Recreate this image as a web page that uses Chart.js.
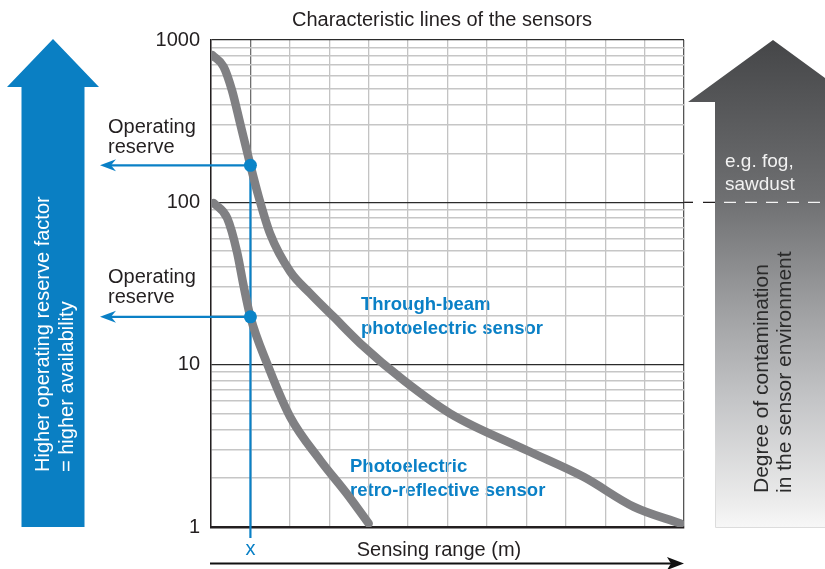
<!DOCTYPE html>
<html>
<head>
<meta charset="utf-8">
<title>Characteristic lines of the sensors</title>
<script src="https://cdn.jsdelivr.net/npm/chart.js@4/dist/chart.umd.min.js"></script>
<style>
  html, body { margin: 0; padding: 0; background: #fff; }
  #wrap { position: relative; width: 825px; height: 569px; }
</style>
</head>
<body>
<div id="wrap"><canvas id="sensorChart"></canvas></div>
<script>
// Data (x = grid steps along the sensing range, y = operating reserve)
const throughBeamX = [0.03, 0.32, 0.53, 0.74, 1, 1.21, 1.5, 2.01, 2.52, 3.11, 3.79, 4.89, 6.07, 8.02, 9.46, 10.73, 11.91];
const throughBeamY = [808, 685, 492, 306, 169, 108, 64, 37.4, 27.4, 19.7, 13.5, 8.0, 5.0, 2.96, 2.03, 1.33, 1.05];
const retroX = [0.07, 0.41, 0.66, 0.83, 1, 1.42, 2.01, 2.77, 3.45, 4.0];
const retroY = [99, 80, 49.5, 30.4, 19.7, 10.2, 4.76, 2.58, 1.6, 1.05];
const reserveX = [1, 1];
const reserveY = [169, 19.7];
const yTickLabels = [1, 10, 100, 1000];
const xSteps = 12;

const ink = '#231f20';
const blue = '#0a80c6';
const curveGray = '#808083';
const font = (size, weight) => (weight || '') + ' ' + size + 'px "Liberation Sans", Arial, sans-serif';

// grid values for the log axis: 1..9, 10..90, 100..1000
const yGrid = [];
for (let d = 1; d < 1000; d *= 10) {
    for (let m = 1; m < 10; m++) yGrid.push(m * d);
}
yGrid.push(1000);

const toPoints = (xs, ys) => xs.map((x, i) => ({ x: x, y: ys[i] }));

// Arrows, captions and guide lines around the plot
const decor = {
    id: 'decor',
    beforeDraw(chart) {
        const c = chart.ctx;
        c.save();

        // left blue arrow
        c.fillStyle = '#0a7fc3';
        c.beginPath();
        c.moveTo(53, 39); c.lineTo(99, 87); c.lineTo(84.5, 87); c.lineTo(84.5, 527);
        c.lineTo(21.5, 527); c.lineTo(21.5, 87); c.lineTo(7, 87);
        c.closePath(); c.fill();

        c.fillStyle = '#ffffff';
        c.font = font(20);
        c.textAlign = 'left';
        c.textBaseline = 'middle';
        [['Higher operating reserve factor', 43], ['= higher availability', 67]].forEach(([t, x]) => {
            c.save(); c.translate(x, 472); c.rotate(-Math.PI / 2); c.fillText(t, 0, 0); c.restore();
        });

        // right gray arrow
        const g = c.createLinearGradient(0, 40, 0, 527);
        g.addColorStop(0, '#454648');
        g.addColorStop(0.33, '#6f7072');
        g.addColorStop(0.54, '#9c9d9f');
        g.addColorStop(0.74, '#c4c5c7');
        g.addColorStop(0.95, '#ececec');
        g.addColorStop(1, '#f7f7f7');
        c.fillStyle = g;
        c.beginPath();
        c.moveTo(773, 40); c.lineTo(858, 102); c.lineTo(831, 102); c.lineTo(831, 527);
        c.lineTo(715, 527); c.lineTo(715, 102); c.lineTo(688, 102);
        c.closePath(); c.fill();
        c.strokeStyle = '#dcdcdc';
        c.lineWidth = 1;
        c.beginPath(); c.moveTo(715.5, 450); c.lineTo(715.5, 527.5); c.lineTo(825, 527.5); c.stroke();

        c.fillStyle = '#f2f2f2';
        c.font = font(19);
        c.fillText('e.g. fog,', 725, 162);
        c.fillText('sawdust', 725, 185);

        c.fillStyle = '#2b2b2b';
        c.font = font(21);
        [['Degree of contamination', 762], ['in the sensor environment', 785]].forEach(([t, x]) => {
            c.save(); c.translate(x, 493); c.rotate(-Math.PI / 2); c.fillText(t, 0, 0); c.restore();
        });

        // dashed threshold at 100
        const y100 = chart.scales.y.getPixelForValue(100);
        const right = chart.chartArea.right;
        c.strokeStyle = ink; c.lineWidth = 1.3;
        c.beginPath(); c.moveTo(right, y100); c.lineTo(693, y100); c.stroke();
        c.setLineDash([12, 9]);
        c.save();
        c.beginPath(); c.rect(690, 190, 25, 25); c.clip();
        c.beginPath(); c.moveTo(703, y100); c.lineTo(825, y100); c.stroke();
        c.restore();
        c.save();
        c.beginPath(); c.rect(715, 190, 110, 25); c.clip();
        c.strokeStyle = '#f4f4f4';
        c.beginPath(); c.moveTo(703, y100); c.lineTo(825, y100); c.stroke();
        c.restore();
        c.setLineDash([]);

        // title and axis caption
        c.fillStyle = ink;
        c.textAlign = 'center';
        c.font = font(20);
        c.fillText('Characteristic lines of the sensors', 442, 20);
        c.fillText('Sensing range (m)', 439, 550);

        // operating reserve captions
        c.textAlign = 'left';
        c.fillText('Operating', 108, 127);
        c.fillText('reserve', 108, 147);
        c.fillText('Operating', 108, 277);
        c.fillText('reserve', 108, 297);

        // series captions
        c.fillStyle = blue;
        c.font = font(18.5, 'bold');
        c.fillText('Through-beam', 361, 305);
        c.fillText('photoelectric sensor', 361, 329);
        c.fillText('Photoelectric', 350, 467);
        c.fillText('retro-reflective sensor', 350, 491);

        // bottom range arrow
        c.strokeStyle = '#111'; c.fillStyle = '#111'; c.lineWidth = 2;
        c.beginPath(); c.moveTo(210, 563.5); c.lineTo(672, 563.5); c.stroke();
        c.beginPath(); c.moveTo(684, 563.5); c.lineTo(667, 557); c.lineTo(671, 563.5); c.lineTo(667, 570); c.closePath(); c.fill();
        c.restore();
    },
    beforeDatasetsDraw(chart) {
        const c = chart.ctx;
        const xs = chart.scales.x, ys = chart.scales.y;
        c.save();
        c.strokeStyle = blue; c.fillStyle = blue; c.lineWidth = 2.2;
        const px = xs.getPixelForValue(reserveX[0]);
        c.beginPath(); c.moveTo(px, ys.getPixelForValue(reserveY[0])); c.lineTo(px, 538); c.stroke();
        reserveY.forEach((v, i) => {
            const x = xs.getPixelForValue(reserveX[i]);
            const y = ys.getPixelForValue(v);
            c.beginPath(); c.moveTo(x, y); c.lineTo(108, y); c.stroke();
            c.beginPath(); c.moveTo(100, y); c.lineTo(116, y - 6); c.lineTo(111, y); c.lineTo(116, y + 6); c.closePath(); c.fill();
        });
        c.font = font(20);
        c.textAlign = 'center';
        c.textBaseline = 'middle';
        c.fillText('x', px, 549);
        c.restore();
    }
};

const chart = new Chart(document.getElementById('sensorChart'), {
    type: 'line',
    data: {
        datasets: [{
            label: 'Operating reserve',
            data: toPoints(reserveX, reserveY),
            showLine: false,
            pointRadius: 6.5,
            pointBackgroundColor: '#0a84c8',
            pointBorderWidth: 0,
            order: 0
        }, {
            label: 'Through-beam photoelectric sensor',
            data: toPoints(throughBeamX, throughBeamY),
            borderColor: curveGray,
            borderWidth: 8.5,
            borderCapStyle: 'round',
            borderJoinStyle: 'round',
            cubicInterpolationMode: 'monotone',
            pointRadius: 0,
            order: 1
        }, {
            label: 'Photoelectric retro-reflective sensor',
            data: toPoints(retroX, retroY),
            borderColor: curveGray,
            borderWidth: 8.5,
            borderCapStyle: 'round',
            borderJoinStyle: 'round',
            cubicInterpolationMode: 'monotone',
            pointRadius: 0,
            order: 1
        }]
    },
    options: {
        responsive: true,
        maintainAspectRatio: false,
        animation: false,
        layout: { padding: { left: 0, top: 40, right: 141, bottom: 42 } },
        plugins: { legend: { display: false }, tooltip: { enabled: false } },
        scales: {
            x: {
                type: 'linear',
                min: 0,
                max: xSteps,
                ticks: { display: false, stepSize: 1 },
                grid: {
                    drawTicks: false,
                    lineWidth: 1.3,
                    color: ctx => ctx.tick.value === 1 ? '#6f6f6f' : (ctx.tick.value === xSteps ? '#555' : '#c3c3c3')
                },
                border: { color: ink, width: 2.5 },
                afterFit: s => { s.height = 0; }
            },
            y: {
                type: 'logarithmic',
                min: 1,
                max: 1000,
                afterBuildTicks: s => { s.ticks = yGrid.map(v => ({ value: v })); },
                ticks: {
                    autoSkip: false,
                    padding: 11,
                    color: ink,
                    font: { family: '"Liberation Sans", Arial, sans-serif', size: 20 },
                    callback: v => yTickLabels.includes(v) ? String(v) : ''
                },
                grid: {
                    drawTicks: false,
                    lineWidth: ctx => yTickLabels.includes(ctx.tick.value) ? 1.3 : 1.5,
                    color: ctx => yTickLabels.includes(ctx.tick.value) ? '#2b2b2b' : '#c6c6c6'
                },
                border: { color: ink, width: 1.5 },
                afterFit: s => { s.width = 211; }
            }
        }
    },
    plugins: [decor]
});
</script>
</body>
</html>
